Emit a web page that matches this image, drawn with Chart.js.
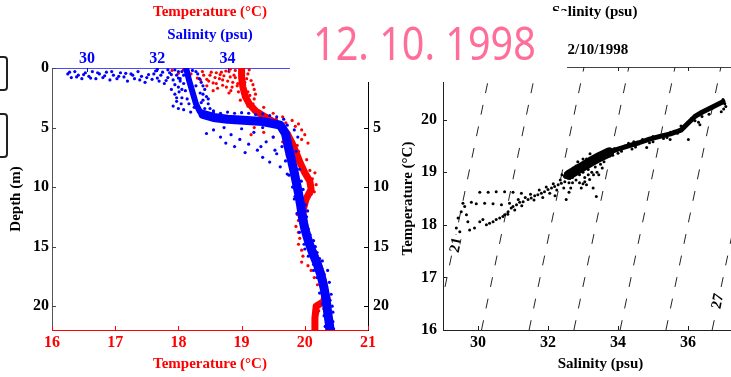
<!DOCTYPE html>
<html>
<head>
<meta charset="utf-8">
<script src="https://cdn.jsdelivr.net/npm/chart.js@4.4.0/dist/chart.umd.min.js"></script>
<style>
  html, body { margin:0; padding:0; background:#fff; }
  #wrap { position:relative; width:731px; height:377px; overflow:hidden; background:#fff; }
  #wrap canvas { position:absolute; top:0; }
  #profile { left:0; }
  #ts { left:385px; }
  .txt { position:absolute; font-family:"Liberation Serif", serif; font-weight:bold; font-size:15px; line-height:15px; color:#000; white-space:nowrap; }
  #mask { position:absolute; left:290px; top:11px; width:277px; height:71px; background:#fff; }
  #date { position:absolute; left:313px; top:19px; font-family:"Noto Sans", sans-serif; font-size:46px; line-height:46px; color:#ff6e99; white-space:nowrap; transform:scaleX(0.86); transform-origin:left top; }
  .box { position:absolute; left:-12px; width:16px; border:2px solid #222; border-radius:4px; }
</style>
</head>
<body>
<div id="wrap">
  <canvas id="profile" width="400" height="377"></canvas>
  <canvas id="ts" width="380" height="377"></canvas>
  <div class="txt" style="left:552px; top:4px;">Salinity (psu)</div>
  <div class="txt" style="left:560px; top:42px;">12/10/1998</div>
  <div id="mask"></div>
  <div id="date">12. 10. 1998</div>
  <div class="box" style="top:56px; height:31px;"></div>
  <div class="box" style="top:113px; height:41px;"></div>
</div>
<script>
// ---- depth profile (left panel) ----
const tempTicks = [16, 17, 18, 19, 20, 21];
const salTicksTop = [30, 32, 34, 36];
const depthTicks = [0, 5, 10, 15, 20];
const depthTicksRight = [5, 10, 15, 20];

// temperature readings [degC, depth m]
const tempPoints = [
  [17.9,0.2],[18.0,0.45],[18.08,0.15],[18.2,0.5],[18.3,0.85],[18.38,0.3],[18.45,0.95],[18.5,0.6],
  [18.55,1.25],[18.6,0.4],[18.65,0.9],[18.7,1.45],[18.72,0.65],[18.78,1.1],[18.8,0.3],[18.85,1.6],
  [18.9,0.8],[18.94,1.3],[19.1,0.5],[19.15,1.05],[19.2,1.8],[19.13,2.3],[18.95,2.0],[19.2,2.6],
  [18.82,0.1],[18.62,1.7],[19.12,0.15],[19.18,1.4],
  [18.9,0.2],[19.08,0.9],[18.93,1.5],[19.1,2.0],[18.98,2.7],[19.18,3.0],[18.88,0.6],[19.05,1.2],
  [18.75,0.25],[18.68,0.35],[18.58,0.8],[18.83,1.9],[19.22,2.2],
  [18.4,0.6],[18.48,1.1],[18.52,0.35],[18.6,1.3],[18.66,0.55],[18.7,1.0],[18.76,1.6],[18.82,0.75],
  [18.86,1.2],[18.35,1.0],[18.45,1.5],[18.55,1.9],[18.8,2.1],
  [19.1,3.2],[19.25,3.6],[19.35,3.3],[19.4,4.0],[19.5,3.8],[19.55,4.3],[19.65,4.1],[19.7,4.6],
  [19.8,4.4],[19.85,4.9],[19.9,4.7],[19.95,5.2],[19.75,5.5],[19.6,5.0],[19.45,4.8],[19.3,4.5],
  [19.2,5.0],[19.35,5.4],[19.15,5.6],[19.5,5.8],[19.65,6.2],[19.95,6.0],[20.05,6.3],[20.03,7.7],
  [20.08,8.6],[20.16,8.8],[20.12,9.3],[20.18,9.8],[20.15,10.4],[20.1,10.6],[19.9,7.0],[19.78,6.8],
  [19.95,8.0],[19.85,7.5],[19.72,7.3],[19.8,8.2],[20.0,5.6],[19.88,6.5],
  [19.88,12.3],[19.9,12.8],[19.86,13.3],[19.9,13.8],[19.92,14.3],[19.9,14.8],[19.95,15.3],
  [19.97,15.8],[19.95,16.3],[20.05,16.6],[20.1,17.0],[20.15,17.6],[20.2,18.2],
  [20.2,19.8],[20.25,19.9],[20.3,20.2],[20.22,20.4],[20.28,19.5],[20.33,19.2],[20.2,20.6]
];
const tempCore = [
  [19.0,0],[19.0,0.8],[19.02,1.6],[19.06,2.4],[19.12,3.0],[19.22,3.6],[19.4,4.2],[19.6,4.8],
  [19.72,5.5],[19.8,6.3],[19.87,7.2],[19.93,8.0],[20.0,8.8],[20.08,9.5],[20.1,10.2],[20.02,11.0],
  [19.97,12.0],[19.99,13.0],[20.03,14.0],[20.1,15.0],[20.18,16.0],[20.25,17.0],[20.3,18.0],
  [20.32,19.0],[20.3,19.6],[20.18,20.0],[20.16,21.0],[20.16,22]
];
const tempCoreDeep = [[20.36,19.2],[20.37,22]];

// salinity readings [psu, depth m]
const salPoints = [
  [29.45,0.5],[29.55,0.8],[29.65,0.3],[29.75,0.6],[29.85,0.9],[29.95,0.4],[30.05,0.7],[30.15,0.3],
  [30.25,0.9],[30.35,0.5],[30.45,0.8],[30.55,0.35],[30.65,1.0],[30.75,0.6],[30.85,0.9],[30.95,0.4],
  [31.05,0.75],[31.15,1.1],[31.25,0.5],[31.35,0.9],[31.45,0.3],[31.55,0.7],[31.65,1.2],[31.75,0.55],
  [31.85,0.95],[31.95,0.25],[32.05,1.1],[32.1,0.6],[32.2,1.3],[32.3,0.8],[32.35,0.4],[32.45,1.0],
  [32.5,1.4],[32.55,0.6],[32.65,1.1],[32.7,0.3],[32.6,1.6],[32.4,1.8],
  [29.5,0.35],[29.7,0.75],[29.9,0.55],[30.1,0.85],[30.3,0.4],[30.5,0.65],[30.7,0.3],[30.9,0.7],
  [31.1,0.45],[31.3,0.6],[31.5,1.0],[31.7,0.8],[31.9,0.5],[32.0,0.85],[32.15,0.35],[32.25,1.05],
  [32.4,0.55],[32.6,0.85],[32.75,1.3],[32.5,0.15],[32.3,0.15],[32.0,0.12],
  [32.5,2.2],[32.55,2.8],[32.45,3.2],[32.7,2.5],[32.75,3.5],[32.8,1.9],[33.15,0.5],[33.25,1.2],
  [33.35,1.8],[33.4,2.4],[33.45,3.0],[33.3,2.7],[33.5,3.4],[33.2,3.8],[33.6,3.6],[32.9,3.0],[32.95,3.7],
  [32.62,2.0],[32.68,3.0],[33.22,2.1],[33.3,1.5],[33.1,0.3],
  [32.6,0.3],[32.65,0.9],[33.0,0.2],[33.2,0.9],[33.3,2.2],[32.7,1.8],[32.85,2.6],[33.05,3.3],
  [33.35,3.4],[32.6,3.4],[33.1,1.5],[32.75,0.6],[33.25,2.9],[32.55,2.5],[33.45,2.6],
  [33.4,3.8],[33.6,3.7],[33.8,3.8],[34.0,3.7],[34.2,3.8],[34.4,3.75],[34.6,3.8],[34.8,3.9],
  [35.0,3.85],[35.2,4.0],[35.4,4.1],[35.6,4.3],[33.5,4.2],[33.7,4.3],[33.9,4.2],[34.1,4.35],
  [34.3,4.3],[34.5,4.4],[34.7,4.35],[34.9,4.5],[35.1,4.45],[35.3,4.6],[35.5,4.7],[35.7,4.8],
  [33.4,5.5],[33.6,5.2],[33.8,5.8],[33.95,6.3],[34.1,5.6],[34.2,6.6],[34.35,6.0],[34.5,7.1],
  [34.6,6.4],[34.75,5.4],[34.85,6.9],[35.0,7.5],[35.1,6.2],[35.2,7.9],[35.3,5.8],[35.4,7.2],
  [35.5,8.3],[35.55,6.6],[35.65,7.8],[35.7,8.9],[35.0,5.0],[34.4,5.1],[33.9,5.0],[35.35,6.9],[34.95,6.6],
  [35.9,5.2],[36.0,5.8],[35.95,7.0],[36.05,8.5],[36.1,9.5],[35.85,10.0],[35.9,11.0],[36.25,12.5],
  [36.3,13.5],[36.45,14.5],[36.55,15.5],[36.7,16.2],[36.85,17.0],[36.9,18.0],[36.95,19.0],[37.0,20.5],
  [36.7,18.5],[36.45,17.0],[36.2,15.2],[36.1,13.0],
  [35.75,9.0],[36.15,10.2],[35.92,10.8],[36.22,11.5],[35.98,12.2],[36.28,12.0],[36.05,13.8],[36.35,14.0],
  [36.18,14.8],[36.5,15.0],[36.3,15.8],[36.62,16.0],[36.45,16.5],[36.75,17.3],[36.55,17.6],[36.82,18.3],
  [36.62,18.9],[36.92,19.5],[36.7,19.8],[36.98,20.0],[36.75,20.8],[37.0,21.3],[36.78,21.7],[37.02,21.9]
];
const salCoreUpper = [[32.82,0],[32.9,1.0],[33.0,2.0],[33.1,3.0],[33.2,3.6],[33.4,4.0]];
const salCore = [
  [33.3,3.9],[33.6,4.15],[34.0,4.3],[35.0,4.5],[35.5,4.8],
  [35.65,5.5],[35.72,6.5],[35.8,7.5],[35.88,8.5],[35.95,9.5],[36.02,10.5],[36.08,11.5],[36.13,12.5],
  [36.2,13.5],[36.3,14.5],[36.42,15.5],[36.56,16.5],[36.67,17.5],[36.75,18.5],[36.81,19.5],
  [36.85,20.5],[36.9,21.5],[36.92,22]
];

// ---- T-S diagram (right panel) ----
const tsSalTicks = [30, 32, 34, 36];
const tsTempTicks = [16, 17, 18, 19, 20];
// [psu, degC]
const tsPoints = [
  [29.43,18.13],[29.38,17.94],[29.48,17.87],[29.52,18.25],[29.57,18.41],[29.62,18.35],[29.67,18.19],
  [29.71,18.06],[29.76,17.9],[29.9,17.94],
  [30.05,18.62],[30.29,18.62],[30.52,18.63],[30.76,18.63],[31.0,18.62],[31.24,18.6],
  [29.81,18.43],[29.95,18.4],[30.19,18.41],[30.43,18.4],[30.67,18.38],[30.9,18.41],
  [30.05,18.06],[30.14,18.1],[30.24,18.0],[30.33,18.03],[30.43,18.06],[30.52,18.1],[30.62,18.13],
  [30.71,18.16],[30.76,18.19],[30.86,18.25],[30.95,18.32],[31.0,18.35],[31.1,18.38],[31.19,18.43],
  [31.29,18.44],[31.43,18.48],[31.52,18.51],[31.62,18.55],[31.71,18.57],[31.81,18.6],[31.9,18.63],
  [32.0,18.67],[32.1,18.7],[32.19,18.73],[32.29,18.76],[32.38,18.79],[32.48,18.82],
  [31.35,18.52],[31.5,18.58],[31.6,18.47],[31.75,18.66],[31.85,18.52],[31.95,18.72],[32.05,18.6],
  [32.15,18.78],[32.25,18.66],[32.35,18.85],[32.45,18.7],[32.55,18.9],[32.2,18.55],[31.05,18.28],
  [31.25,18.36],[30.85,18.2],[31.15,18.48],[32.4,18.95],[32.6,18.62],[32.52,18.48],
  [32.72,19.08],[32.5,18.98],[32.85,18.98],[33.38,18.54],[33.29,18.7],[33.19,18.86],[33.1,18.76],
  [34.82,19.47],[36.34,19.9],[36.01,19.62],[35.49,19.62],
  [32.6,18.8],[32.7,18.9],[32.8,18.85],[32.9,18.95],[33.0,19.0],[32.75,19.05],[32.95,19.15],
  [33.05,18.9],[33.15,19.05],[33.25,19.2],[33.35,19.1],[33.45,19.25],[32.85,19.2],[33.1,19.25],
  [33.5,19.35],[33.6,19.2],[33.3,18.95],[32.65,18.7],[33.0,18.78],[33.4,19.0],[33.7,19.3],
  [33.2,19.35],[32.95,18.7],[33.55,19.08],
  [32.55,19.0],[32.7,18.8],[32.8,19.12],[33.0,19.25],[33.05,18.82],[33.25,19.0],[33.35,19.3],
  [33.5,19.15],[33.65,19.28],[32.9,18.8],[33.15,18.95],[33.45,18.95],[32.62,18.88],
  [33.8,19.38],[34.0,19.36],[34.2,19.5],[34.4,19.44],[34.6,19.56],[34.8,19.6],[35.0,19.58],
  [35.2,19.7],[35.4,19.66],[35.6,19.78],[35.8,19.88],[36.0,19.95],[36.2,20.08],[36.5,20.18],
  [36.8,20.28],[36.95,20.15],[37.02,20.2],[37.05,20.3],[36.6,20.1],[36.3,19.95],
  [33.9,19.45],[34.1,19.4],[34.3,19.55],[34.5,19.48],[34.7,19.62],[34.9,19.56],[35.1,19.68],
  [35.3,19.64],[35.5,19.76],[35.7,19.74],[35.9,19.86],[36.1,20.02],[36.3,20.1],[36.4,20.06],
  [36.6,20.2],[36.7,20.22],[36.9,20.3],[37.0,20.38],[37.08,20.25],[35.0,19.68],[34.45,19.58],
  [33.85,19.32],[36.2,19.98]
];
const tsBlob = [[32.6,18.95],[32.9,19.07],[33.2,19.19],[33.5,19.3],[33.75,19.38]];
const tsBand = [
  [32.5,18.92],[32.8,19.03],[33.1,19.15],[33.4,19.27],[33.7,19.37],[34.0,19.44],[34.3,19.5],
  [34.6,19.56],[34.9,19.63],[35.2,19.68],[35.5,19.73],[35.8,19.8],[36.0,19.93],[36.2,20.06],
  [36.4,20.14],[36.7,20.24],[37.0,20.34]
];
// sigma-t isolines: salinity where each line crosses 16 and 21 degC
const isoSigma = [21, 22, 23, 24, 25, 26, 27];
const isoSalAt16 = [28.8, 30.1, 31.46, 32.74, 34.06, 35.37, 36.69];
const isoSalAt21 = [30.37, 31.67, 33.03, 34.31, 35.63, 36.94, 38.26];
const isoLabels = ['21', '27'];
const isoLabelSal = [29.35, 36.83];
const isoLabelTemp = [17.62, 16.55];

const serif = '"Liberation Serif", "Times New Roman", serif';
const tickFont = {family: serif, size: 16, weight: 'bold'};
const titleFont = {family: serif, size: 15, weight: 'bold'};
const RED = '#ff0000', BLUE = '#0000ff';

const toXY = arr => arr.map(p => ({x: p[0], y: p[1]}));
const setTicks = vals => (s => { s.ticks = vals.map(v => ({value: v})); });
const noGrid = {display: false, drawTicks: false};

// small tick marks drawn on the inner side of the axes
const innerTicks = {
  id: 'innerTicks',
  afterDraw(chart, args, opts) {
    const ctx = chart.ctx, a = chart.chartArea;
    ctx.save();
    ctx.lineWidth = 1;
    opts.list.forEach(t => {
      const s = chart.scales[t.axis];
      ctx.strokeStyle = t.color;
      s.ticks.forEach(tk => {
        const p = Math.round(s.getPixelForValue(tk.value)) + 0.5;
        ctx.beginPath();
        if (t.edge === 'left') { ctx.moveTo(a.left, p); ctx.lineTo(a.left + 4, p); }
        if (t.edge === 'right') { ctx.moveTo(a.right, p); ctx.lineTo(a.right - 4, p); }
        if (t.edge === 'bottom') { ctx.moveTo(p, a.bottom); ctx.lineTo(p, a.bottom - 4); }
        if (t.edge === 'top') { ctx.moveTo(p, a.top); ctx.lineTo(p, a.top + 4); }
        ctx.stroke();
      });
    });
    ctx.restore();
  }
};

// contour labels on the isolines
const isoText = {
  id: 'isoText',
  afterDatasetsDraw(chart) {
    const ctx = chart.ctx, sx = chart.scales.x, sy = chart.scales.y;
    ctx.save();
    ctx.font = 'bold 15px ' + serif;
    ctx.textAlign = 'center';
    ctx.textBaseline = 'middle';
    isoLabels.forEach((lab, i) => {
      const px = sx.getPixelForValue(isoLabelSal[i]);
      const py = sy.getPixelForValue(isoLabelTemp[i]);
      ctx.save();
      ctx.translate(px, py);
      ctx.rotate(-78 * Math.PI / 180);
      ctx.fillStyle = '#fff';
      ctx.fillRect(-10, -7, 20, 14);
      ctx.fillStyle = '#000';
      ctx.fillText(lab, 0, 1);
      ctx.restore();
    });
    ctx.restore();
  }
};

new Chart(document.getElementById('profile'), {
  type: 'scatter',
  data: {
    datasets: [
      {data: toXY(salPoints), xAxisID: 'x2', yAxisID: 'y', backgroundColor: BLUE, borderWidth: 0, pointRadius: 1.6},
      {data: toXY(salCore), xAxisID: 'x2', yAxisID: 'y', showLine: true, borderColor: BLUE, borderWidth: 9,
       pointRadius: 0, borderCapStyle: 'round', borderJoinStyle: 'round'},
      {data: toXY(salCoreUpper), xAxisID: 'x2', yAxisID: 'y', showLine: true, borderColor: BLUE, borderWidth: 6,
       pointRadius: 0, borderCapStyle: 'round', borderJoinStyle: 'round'},
      {data: toXY(tempPoints), xAxisID: 'x', yAxisID: 'y', backgroundColor: RED, borderWidth: 0, pointRadius: 1.6},
      {data: toXY(tempCore), xAxisID: 'x', yAxisID: 'y', showLine: true, borderColor: RED, borderWidth: 7,
       pointRadius: 0, borderCapStyle: 'round', borderJoinStyle: 'round'},
      {data: toXY(tempCoreDeep), xAxisID: 'x', yAxisID: 'y', showLine: true, borderColor: RED, borderWidth: 6, pointRadius: 0}
    ]
  },
  options: {
    responsive: false,
    animation: false,
    devicePixelRatio: 1,
    layout: {padding: 0},
    plugins: {
      legend: {display: false},
      tooltip: {enabled: false},
      title: {display: true, text: 'Temperature (°C)', color: RED, font: titleFont, padding: {top: 3, bottom: 1}, fullSize: false},
      innerTicks: {list: [
        {axis: 'y', edge: 'left', color: '#444'},
        {axis: 'y2', edge: 'right', color: '#000'},
        {axis: 'x', edge: 'bottom', color: RED},
        {axis: 'x2', edge: 'top', color: BLUE}
      ]}
    },
    scales: {
      x: {type: 'linear', position: 'bottom', min: 16, max: 21,
          afterBuildTicks: setTicks(tempTicks), afterFit: s => { s.height = 47; },
          grid: noGrid, border: {display: true, color: RED},
          ticks: {color: RED, font: tickFont, padding: 3},
          title: {display: true, text: 'Temperature (°C)', color: RED, font: titleFont, padding: {top: 4, bottom: 4}}},
      x2: {type: 'linear', position: 'top', min: 29, max: 38,
          afterBuildTicks: setTicks(salTicksTop), afterFit: s => { s.height = 46; },
          grid: noGrid, border: {display: true, color: '#4a4aff'},
          ticks: {color: BLUE, font: tickFont, padding: 0},
          title: {display: true, text: 'Salinity (psu)', color: BLUE, font: titleFont, padding: {top: 4, bottom: 4}}},
      y: {type: 'linear', position: 'left', reverse: true, min: 0, max: 22,
          afterBuildTicks: setTicks(depthTicks), afterFit: s => { s.width = 52; },
          grid: noGrid, border: {display: true, color: '#555'},
          ticks: {color: '#000', font: tickFont, padding: 3},
          title: {display: true, text: 'Depth (m)', color: '#000', font: titleFont, padding: {top: 7, bottom: 4}}},
      y2: {type: 'linear', position: 'right', reverse: true, min: 0, max: 22,
          afterBuildTicks: setTicks(depthTicksRight), afterFit: s => { s.width = 32; },
          grid: noGrid, border: {display: true, color: '#000'},
          ticks: {color: '#000', font: tickFont, padding: 5}}
    }
  },
  plugins: [innerTicks]
});

const isoDatasets = isoSigma.map((sg, i) => ({
  data: [{x: isoSalAt16[i], y: 16}, {x: isoSalAt21[i], y: 21}],
  showLine: true, borderColor: '#222', borderWidth: 1, borderDash: [10, 12], pointRadius: 0
}));

new Chart(document.getElementById('ts'), {
  type: 'scatter',
  data: {
    datasets: [
      {data: toXY(tsPoints), backgroundColor: '#000', borderWidth: 0, pointRadius: 1.5},
      {data: toXY(tsBlob), showLine: true, borderColor: '#000', borderWidth: 10, pointRadius: 0,
       borderCapStyle: 'round', borderJoinStyle: 'round'},
      {data: toXY(tsBand), showLine: true, borderColor: '#000', borderWidth: 5, pointRadius: 0,
       borderCapStyle: 'round', borderJoinStyle: 'round'},
      ...isoDatasets
    ]
  },
  options: {
    responsive: false,
    animation: false,
    devicePixelRatio: 1,
    layout: {padding: {right: 7}},
    plugins: {
      legend: {display: false},
      tooltip: {enabled: false},
      innerTicks: {list: [
        {axis: 'y', edge: 'left', color: '#222'},
        {axis: 'x', edge: 'bottom', color: '#222'},
        {axis: 'x2', edge: 'top', color: '#222'}
      ]}
    },
    scales: {
      x: {type: 'linear', position: 'bottom', min: 29, max: 38,
          afterBuildTicks: setTicks(tsSalTicks), afterFit: s => { s.height = 47; },
          grid: noGrid, border: {display: true, color: '#222'},
          ticks: {color: '#000', font: tickFont, padding: 3},
          title: {display: true, text: 'Salinity (psu)', color: '#000', font: titleFont, padding: {top: 4, bottom: 4}}},
      x2: {type: 'linear', position: 'top', min: 29, max: 38,
          afterBuildTicks: setTicks(tsSalTicks), afterFit: s => { s.height = 67; },
          grid: noGrid, border: {display: true, color: '#444'},
          ticks: {display: false}},
      y: {type: 'linear', position: 'left', min: 16, max: 21,
          afterBuildTicks: setTicks(tsTempTicks), afterFit: s => { s.width = 58; },
          grid: noGrid, border: {display: true, color: '#222'},
          ticks: {color: '#000', font: tickFont, padding: 6},
          title: {display: true, text: 'Temperature (°C)', color: '#000', font: titleFont, padding: {top: 14, bottom: 4}}}
    }
  },
  plugins: [innerTicks, isoText]
});
</script>
</body>
</html>
